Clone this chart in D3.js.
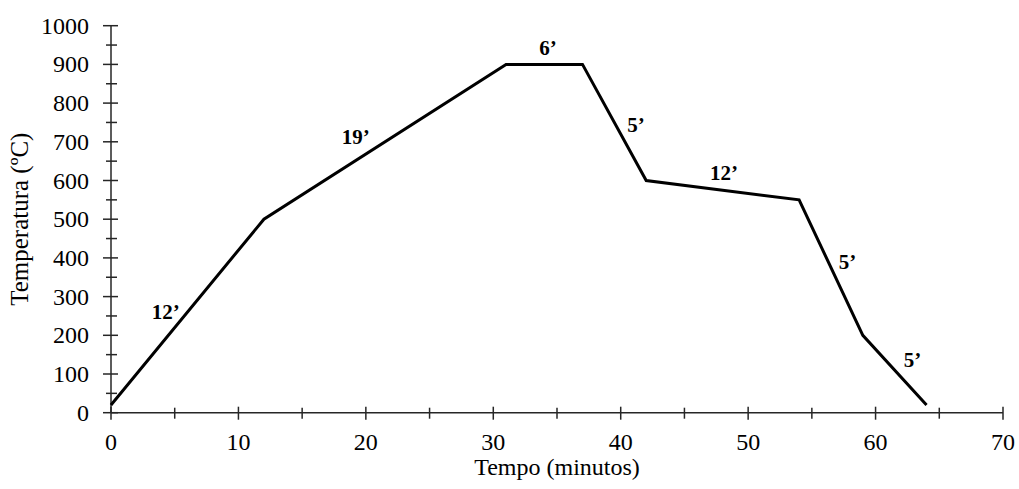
<!DOCTYPE html>
<html>
<head>
<meta charset="utf-8">
<script src="https://cdn.jsdelivr.net/npm/d3@7"></script>
<style>
	body { margin: 0; background: #fff; }
	text { font-family: "Liberation Serif", "Times New Roman", serif; fill: #000; }
</style>
</head>
<body>
<svg id="chart" width="1019" height="489"></svg>
<script>
// temperature profile (minutes, ºC)
var times = [0, 12, 31, 37, 42, 54, 59, 64];
var temps = [20, 500, 900, 900, 600, 550, 200, 20];

// segment duration labels
var segLabels = ["12’", "19’", "6’", "5’", "12’", "5’", "5’"];
var segLabelX = [4.3, 19.2, 34.3, 41.2, 48.1, 57.8, 62.9];
var segLabelY = [260, 712, 942, 743, 619, 389, 136];

var xTicks = [0, 10, 20, 30, 40, 50, 60, 70];
var yTicks = [0, 100, 200, 300, 400, 500, 600, 700, 800, 900, 1000];

var svg = d3.select("#chart");
var margin = {left: 111, top: 25.7, right: 16, bottom: 76.3};
var width = 1019 - margin.left - margin.right,
	height = 489 - margin.top - margin.bottom;

var x = d3.scaleLinear().domain([0, 70]).range([margin.left, margin.left + width]);
var y = d3.scaleLinear().domain([0, 1000]).range([margin.top + height, margin.top]);

var axisColor = "#262626";

// x axis
var gx = svg.append("g");
gx.append("line")
	.attr("x1", x(0)).attr("x2", x(70))
	.attr("y1", y(0)).attr("y2", y(0))
	.attr("stroke", axisColor).attr("stroke-width", 1.5);
gx.selectAll("line.minor").data(d3.range(5, 70, 10)).enter().append("line")
	.attr("class", "minor")
	.attr("x1", function(d) { return x(d); }).attr("x2", function(d) { return x(d); })
	.attr("y1", y(0) - 5).attr("y2", y(0) + 6)
	.attr("stroke", axisColor).attr("stroke-width", 1.5);
gx.selectAll("line.major").data(xTicks).enter().append("line")
	.attr("class", "major")
	.attr("x1", function(d) { return x(d); }).attr("x2", function(d) { return x(d); })
	.attr("y1", y(0) - 6).attr("y2", y(0) + 7)
	.attr("stroke", axisColor).attr("stroke-width", 1.5);
gx.selectAll("text").data(xTicks).enter().append("text")
	.attr("x", function(d) { return x(d); })
	.attr("y", y(0) + 37)
	.attr("text-anchor", "middle")
	.attr("font-size", 24)
	.text(function(d) { return d; });

// y axis
var gy = svg.append("g");
gy.append("line")
	.attr("x1", x(0)).attr("x2", x(0))
	.attr("y1", y(0)).attr("y2", y(1000))
	.attr("stroke", axisColor).attr("stroke-width", 1.5);
gy.selectAll("line.minor").data(d3.range(50, 1000, 100)).enter().append("line")
	.attr("class", "minor")
	.attr("x1", x(0) - 5).attr("x2", x(0) + 6)
	.attr("y1", function(d) { return y(d); }).attr("y2", function(d) { return y(d); })
	.attr("stroke", axisColor).attr("stroke-width", 1.5);
gy.selectAll("line.major").data(yTicks).enter().append("line")
	.attr("class", "major")
	.attr("x1", x(0) - 8).attr("x2", x(0) + 7)
	.attr("y1", function(d) { return y(d); }).attr("y2", function(d) { return y(d); })
	.attr("stroke", axisColor).attr("stroke-width", 1.5);
gy.selectAll("text").data(yTicks).enter().append("text")
	.attr("x", x(0) - 22)
	.attr("y", function(d) { return y(d) + 8; })
	.attr("text-anchor", "end")
	.attr("font-size", 24)
	.text(function(d) { return d; });

// axis titles
svg.append("text")
	.attr("x", x(35))
	.attr("y", 475)
	.attr("text-anchor", "middle")
	.attr("font-size", 24)
	.text("Tempo (minutos)");
svg.append("text")
	.attr("transform", "translate(28," + y(500) + ") rotate(-90)")
	.attr("text-anchor", "middle")
	.attr("font-size", 25)
	.text("Temperatura (ºC)");

// profile line
var pts = times.map(function(t, i) { return [t, temps[i]]; });
var line = d3.line()
	.x(function(d) { return x(d[0]); })
	.y(function(d) { return y(d[1]); });
svg.append("path")
	.attr("d", line(pts))
	.attr("fill", "none")
	.attr("stroke", "#000")
	.attr("stroke-width", 3)
	.attr("stroke-linejoin", "miter");

// duration labels
svg.selectAll("text.seg").data(segLabels).enter().append("text")
	.attr("class", "seg")
	.attr("x", function(d, i) { return x(segLabelX[i]); })
	.attr("y", function(d, i) { return y(segLabelY[i]) + 7; })
	.attr("text-anchor", "middle")
	.attr("font-size", 21)
	.attr("font-weight", "bold")
	.text(function(d) { return d; });
</script>
</body>
</html>
